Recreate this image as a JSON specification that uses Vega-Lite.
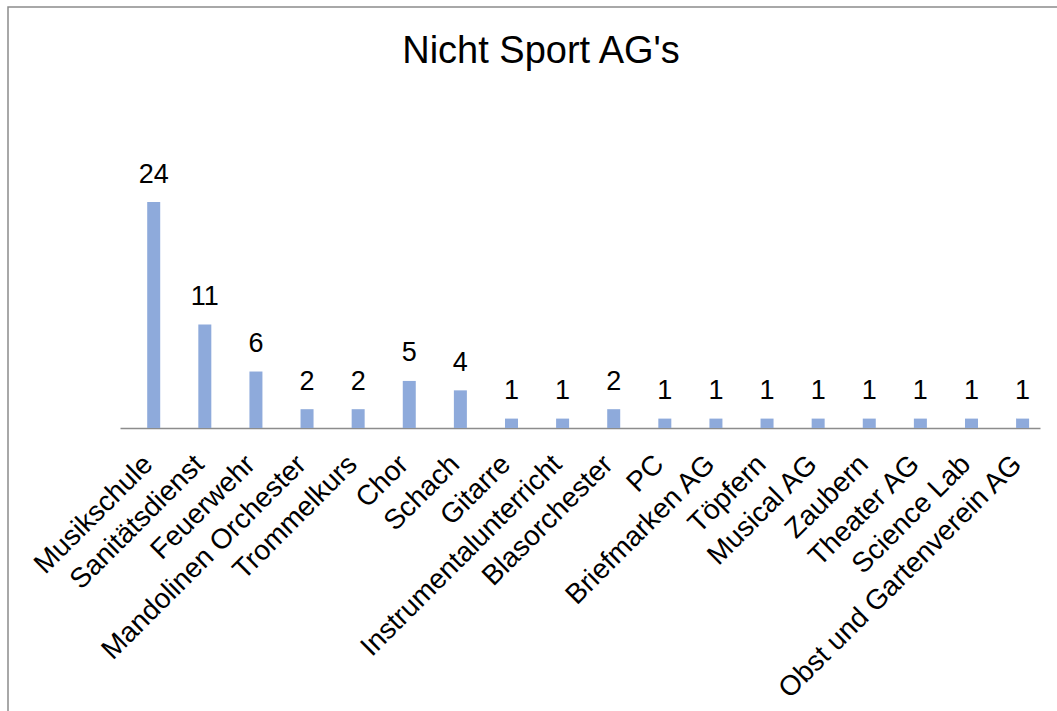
{
  "$schema": "https://vega.github.io/schema/vega-lite/v6.json",
  "autosize": "none",
  "width": 1060,
  "height": 720,
  "padding": {"left": 8, "top": 7, "right": 0, "bottom": 0},
  "background": "white",
  "config": {
    "view": {"stroke": "#8c8c8c", "strokeWidth": 1.5},
    "font": "Liberation Sans"
  },
  "title": {
    "text": "Nicht Sport AG's",
    "fontSize": 38,
    "fontWeight": "normal",
    "color": "#000000",
    "font": "Liberation Sans",
    "anchor": "middle",
    "frame": "group",
    "baseline": "top",
    "offset": -64,
    "dx": 3
  },
  "data": {
    "values": [
      {"ag": "Musikschule", "n": 24},
      {"ag": "Sanitätsdienst", "n": 11},
      {"ag": "Feuerwehr", "n": 6},
      {"ag": "Mandolinen Orchester", "n": 2},
      {"ag": "Trommelkurs", "n": 2},
      {"ag": "Chor", "n": 5},
      {"ag": "Schach", "n": 4},
      {"ag": "Gitarre", "n": 1},
      {"ag": "Instrumentalunterricht", "n": 1},
      {"ag": "Blasorchester", "n": 2},
      {"ag": "PC", "n": 1},
      {"ag": "Briefmarken AG", "n": 1},
      {"ag": "Töpfern", "n": 1},
      {"ag": "Musical AG", "n": 1},
      {"ag": "Zaubern", "n": 1},
      {"ag": "Theater AG", "n": 1},
      {"ag": "Science Lab", "n": 1},
      {"ag": "Obst und Gartenverein AG", "n": 1}
    ]
  },
  "encoding": {
    "x": {
      "field": "ag",
      "type": "nominal",
      "sort": null,
      "scale": {"range": [112, 1032], "paddingInner": 0.7456, "paddingOuter": 0.3728, "align": 0.714, "round": false},
      "axis": {
        "orient": "bottom",
        "offset": -299,
        "domain": true,
        "domainColor": "#8c8c8c",
        "domainWidth": 1.5,
        "ticks": false,
        "title": null,
        "labelAngle": -45,
        "labelAlign": "right",
        "labelBaseline": "top",
        "labelFontSize": 28,
        "labelFont": "Liberation Sans",
        "labelColor": "#000000",
        "labelPadding": 22,
        "labelOffset": -15,
        "labelLimit": 0,
        "labelOverlap": false
      }
    }
  },
  "layer": [
    {
      "mark": {"type": "bar", "color": "#8eaadb"},
      "encoding": {
        "y": {"field": "n", "type": "quantitative", "scale": {"domain": [-31.75, 44.71], "nice": false, "zero": false}, "axis": null},
        "y2": {"datum": 0}
      }
    },
    {
      "mark": {"type": "text", "fontSize": 27, "font": "Liberation Sans", "color": "#000000", "baseline": "alphabetic", "dy": -19.5},
      "encoding": {
        "y": {"field": "n", "type": "quantitative"},
        "text": {"field": "n", "type": "quantitative"}
      }
    }
  ]
}
